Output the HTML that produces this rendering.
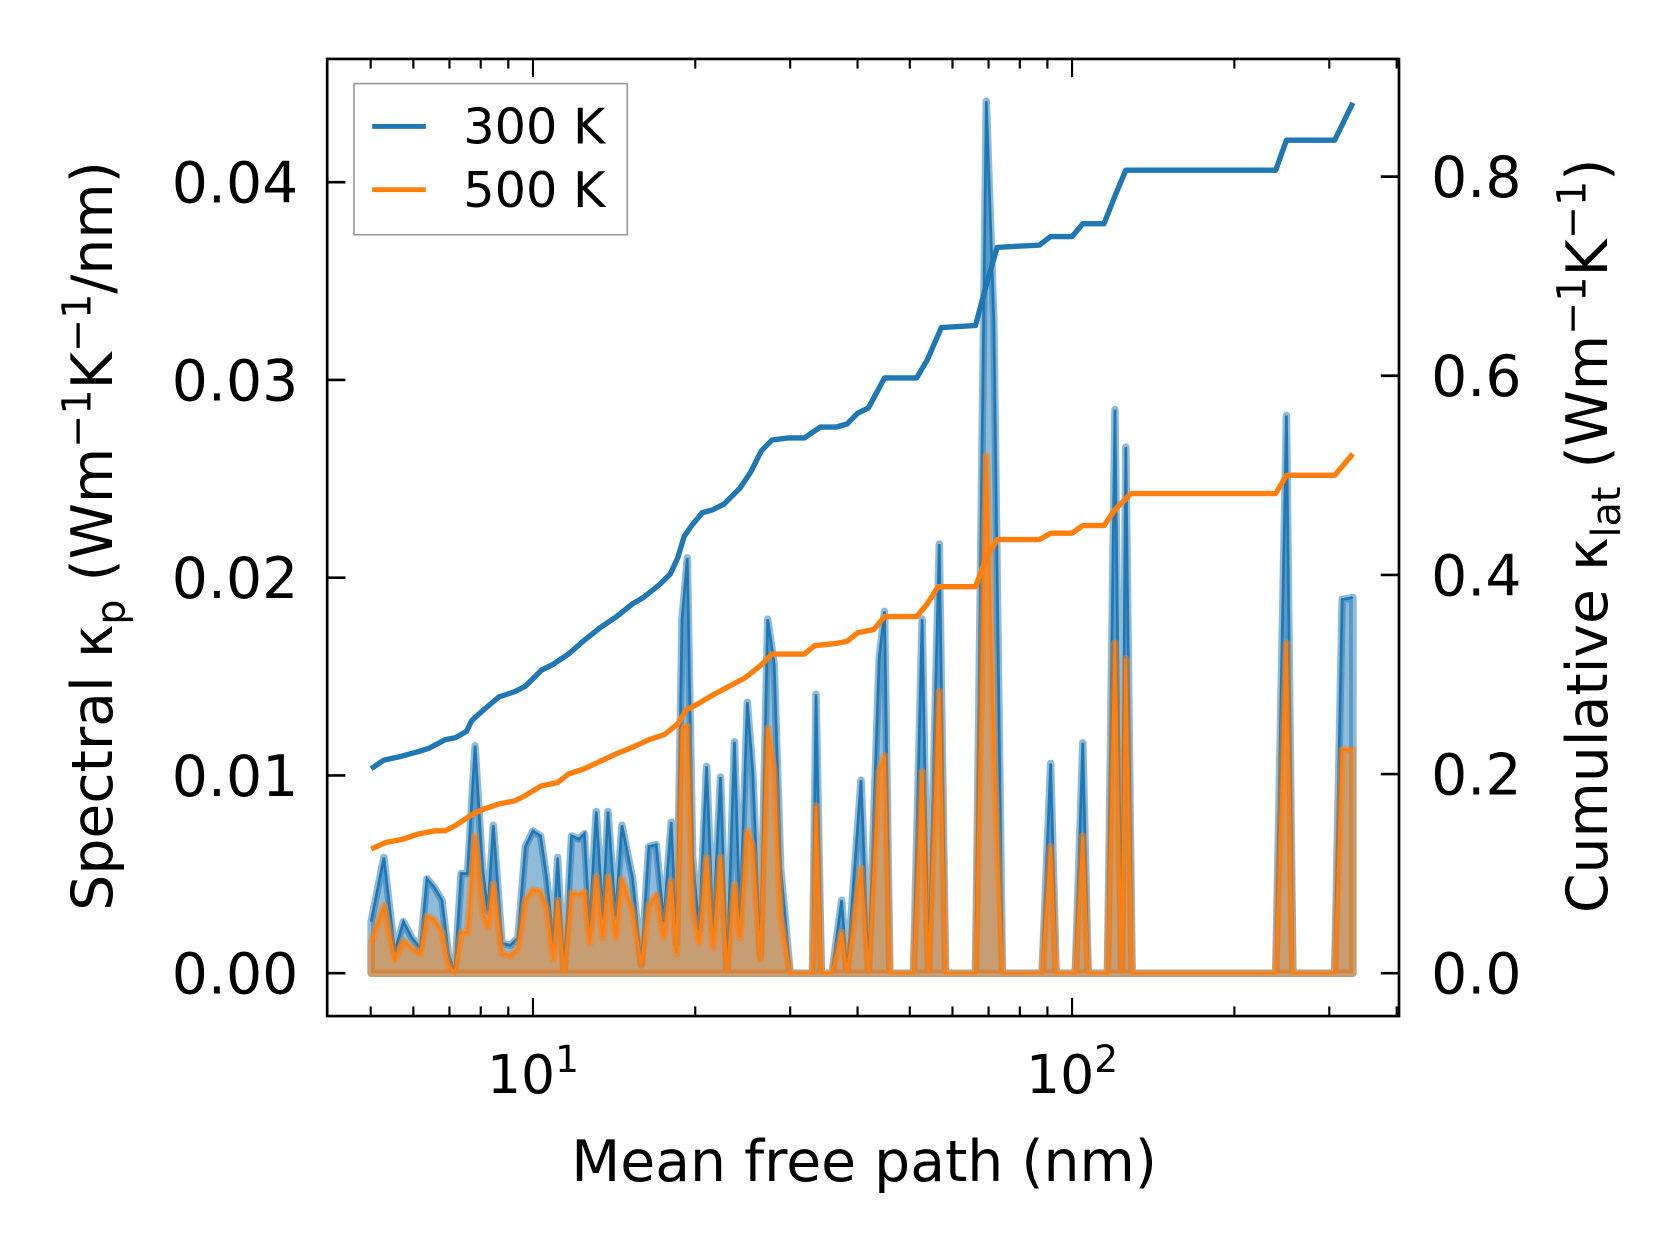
<!DOCTYPE html>
<html><head><meta charset="utf-8"><style>
html,body{margin:0;padding:0;background:#fff}
svg{display:block}
text{font-family:"DejaVu Sans","Liberation Sans",sans-serif;fill:#000}
</style></head><body>
<svg id="chart" width="1679" height="1254" viewBox="0 0 1566 1170" xmlns="http://www.w3.org/2000/svg">
<g id="plot"></g>
<g id="axes"></g>
</svg>
<script>
// ---- data ----
const specX = [5.01,5.29,5.54,5.75,5.96,6.18,6.36,6.56,6.78,6.97,7.16,7.36,7.56,7.81,8.06,8.25,8.44,8.76,9.08,9.38,9.68,10,10.33,10.61,10.91,11.11,11.42,11.79,12.17,12.46,12.74,13.1,13.47,13.78,14.23,14.62,15.31,15.88,16.4,16.93,17.48,18.05,18.47,18.9,19.33,19.78,20.33,20.99,21.58,22.28,22.9,23.65,24.2,24.98,25.56,26.4,27.25,28.02,28.8,30.0,33.0,33.5,34.27,35.87,37.38,38.24,40.6,41.9,43.87,44.88,45.92,50.8,52.7,54.15,56.7,58.27,66.2,69.35,71.6,74.25,87.96,91.25,93.4,101.4,104.7,107.1,116.3,120.1,123.5,125.8,129.2,238.6,249.8,256.8,306.9,316.9,331.8];
// spectral values in units of 1e-3 W m^-1 K^-1 / nm
const spec300 = [2.6,5.85,1.08,2.6,1.8,1.25,4.77,4.34,3.69,0.98,0,5.04,5.04,11.5,5.31,3.14,7.48,1.52,1.41,1.79,6.4,7.2,6.94,4.77,1.52,5.85,0,6.94,6.78,7.05,2.33,8.18,2.87,8.18,2.87,7.48,4.77,0.43,6.4,6.5,2.6,7.64,1.52,17.9,21.0,5.85,2.17,10.46,2.17,9.92,0,11.7,2.6,13.7,10.2,0.81,17.9,15.6,5.31,0,0,14.1,0,0,3.69,0,9.76,0,15.9,18.3,0,0,17.9,0,21.7,0,0,44.1,33,0,0,10.6,0,0,11.65,0,0,28.5,0,26.6,0,0,28.2,0,0,18.9,19.0];
const spec500 = [1.52,3.41,0.7,1.63,1.25,0.98,2.87,2.71,2.06,0.43,0,2.06,2.06,6.94,3.14,2.33,4.5,0.98,0.87,1.25,3.69,4.23,4.12,3.25,0.7,3.69,0,4.07,3.96,4.12,1.52,4.88,1.79,4.88,1.79,4.77,3.14,0.43,3.41,3.96,1.79,4.66,0.98,12.4,12.5,3.14,1.52,5.85,1.3,5.85,0,4.5,1.79,7.2,6.4,0.7,12.4,10.2,2.87,0,0,8.46,0,0,2.06,0,5.31,0,10.2,11.0,0,0,10.2,0,14.25,0,0,26.2,11.3,0,0,6.4,0,0,6.94,0,0,16.7,0,15.9,0,0,16.7,0,0,11.3,11.3];
const cum300X = [5.01,5.29,5.64,6.13,6.41,6.87,7.19,7.53,7.70,8.06,8.64,9.25,9.68,10.37,10.86,11.63,12.46,13.34,14.29,15.31,16.03,17.17,17.98,18.56,19.08,19.7,20.6,21.58,22.6,24.2,25.34,26.52,27.77,29.75,31.87,34.1,36.5,38.24,40.03,41.9,44.88,51.5,53.9,57.2,66.2,69.35,72.6,87.0,91.25,100,104.7,114.6,120.1,125.8,238.6,249.8,306.9,331.8];
const cum300 = [.2054,.2140,.2172,.2226,.2258,.2344,.2366,.2430,.2538,.2634,.2774,.2828,.2882,.3043,.3097,.3204,.3344,.3473,.3581,.3710,.3774,.3903,.4011,.4172,.4387,.4495,.4624,.4656,.4710,.4871,.5032,.5247,.5355,.5376,.5376,.5484,.5484,.5516,.5624,.5677,.5978,.5978,.6161,.6484,.6505,.6914,.7290,.7312,.7398,.7398,.7527,.7527,.7806,.8065,.8065,.8366,.8366,.8742];
const cum500X = [5.01,5.33,5.72,6.13,6.56,6.87,7.19,7.70,8.06,8.64,9.25,9.68,10.37,11.11,11.63,12.46,13.34,14.29,15.31,16.4,17.56,18.56,19.25,20.14,21.58,23.12,24.76,26.52,27.77,31.87,33.3,36.5,38.24,40.03,42.9,44.88,51.5,53.9,56.4,66.2,69.35,72.6,87,91.25,100,104.7,114.6,120.1,128.6,238.6,249.8,306.9,331.8];
const cum500 = [.1247,.1312,.1344,.1398,.1430,.1430,.1484,.1591,.1645,.1699,.1731,.1785,.1882,.1914,.2,.2054,.2129,.2204,.2269,.2344,.2398,.2505,.2645,.2699,.2796,.2882,.2968,.3097,.3204,.3204,.3290,.3312,.3333,.3419,.3452,.3581,.3581,.3710,.3882,.3882,.4172,.4355,.4355,.4419,.4419,.4495,.4495,.4656,.4817,.4817,.5,.5,.5215];
const leftTicks = [0,0.01,0.02,0.03,0.04];
const leftTickLabels = ["0.00","0.01","0.02","0.03","0.04"];
const rightTicks = [0,0.2,0.4,0.6,0.8];
const rightTickLabels = ["0.0","0.2","0.4","0.6","0.8"];
const xMajor = [10,100];
const xMajorExp = ["1","2"];

// ---- axes geometry ----
const L=305,R=1305,T=55,B=948;
const xs = v => 497 + 503*(Math.log10(v)-1);
const yl = v => 908 - 18450*v;      // left axis (W/m/K/nm)
const yr = v => 908 - 929*v;        // right axis (W/m/K)
const NS="http://www.w3.org/2000/svg";
const plot=document.getElementById('plot'), axes=document.getElementById('axes');
function mk(tag,attrs,parent){const e=document.createElementNS(NS,tag);for(const k in attrs)e.setAttribute(k,attrs[k]);parent.appendChild(e);return e;}

function spectral(vals,color,name){
  const pts=specX.map((x,i)=>[xs(x),yl(vals[i]/1000)]);
  const line=pts.map(p=>p[0].toFixed(1)+','+p[1].toFixed(1)).join(' ');
  const area='M'+xs(specX[0]).toFixed(1)+','+yl(0)+' L'+line.split(' ').join(' L')+' L'+xs(specX[specX.length-1]).toFixed(1)+','+yl(0)+' Z';
  const f=mk('path',{d:area,fill:color,'fill-opacity':0.5,stroke:color,'stroke-opacity':0.5,'stroke-width':7,'stroke-linejoin':'round'},plot);
  
  
  const l=mk('polyline',{points:line,fill:'none',stroke:color,'stroke-width':2.5},plot);
  
  
}
spectral(spec300,'#1f77b4','spectral-300k');
spectral(spec500,'#ff7f0e','spectral-500k');

function cum(xa,va,color,name){
  const pts=xa.map((x,i)=>xs(x).toFixed(1)+','+yr(va[i]).toFixed(1)).join(' ');
  const l=mk('polyline',{points:pts,fill:'none',stroke:color,'stroke-width':5,'stroke-linejoin':'round'},plot);
  
  
}
cum(cum300X,cum300,'#1f77b4','cumulative-300k');
cum(cum500X,cum500,'#ff7f0e','cumulative-500k');

// frame
const fr=mk('rect',{x:L,y:T,width:R-L,height:B-T,fill:'none',stroke:'#000','stroke-width':2.5},axes);



// left ticks
leftTicks.forEach((v,i)=>{
  const y=yl(v);
  const t=mk('line',{x1:L,x2:L+17,y1:y,y2:y,stroke:'#000','stroke-width':2.5},axes);
  
  
  const tx=mk('text',{x:L-27,y:y+19,'font-size':53,'text-anchor':'end'},axes);
  tx.textContent=leftTickLabels[i];
  
  
});
// right ticks
rightTicks.forEach((v,i)=>{
  const y=yr(v);
  const t=mk('line',{x1:R-17,x2:R,y1:y,y2:y,stroke:'#000','stroke-width':2.5},axes);
  
  
  const tx=mk('text',{x:R+30,y:y+19,'font-size':53,'text-anchor':'start'},axes);
  tx.textContent=rightTickLabels[i];
  
  
});
// x ticks (log)
for(let d=1;d<=100;d*=10){for(let m=1;m<10;m++){const v=m*d; if(v<4.5||v>400)continue;
  const x=xs(v); const major=(m===1); const len=major?17:9;
  const t1=mk('line',{x1:x,x2:x,y1:B,y2:B-len,stroke:'#000','stroke-width':2},axes);
  
  
  const t2=mk('line',{x1:x,x2:x,y1:T,y2:T+len,stroke:'#000','stroke-width':2},axes);
  
  
}}
xMajor.forEach((v,i)=>{
  const tx=mk('text',{x:xs(v),y:1020,'font-size':50,'text-anchor':'middle'},axes);
  tx.textContent='10';
  const sp=mk('tspan',{dy:-20,'font-size':35},tx);
  sp.textContent=xMajorExp[i];
  
  
});
</script>
<svg style="position:absolute;left:0;top:0" width="1679" height="1254" viewBox="0 0 1566 1170" xmlns="http://www.w3.org/2000/svg">
<text x="806" y="1102" font-size="53" text-anchor="middle">Mean free path (nm)</text>
<text transform="translate(104,500) rotate(-90)" font-size="53" text-anchor="middle">Spectral κ<tspan font-size="37" dy="12">p</tspan><tspan dy="-12"> (Wm</tspan><tspan font-size="37" dy="-20">−1</tspan><tspan dy="20">K</tspan><tspan font-size="37" dy="-20">−1</tspan><tspan dy="20">/nm)</tspan></text>
<text transform="translate(1499,500) rotate(-90)" font-size="53" text-anchor="middle">Cumulative κ<tspan font-size="37" dy="12">lat</tspan><tspan dy="-12"> (Wm</tspan><tspan font-size="37" dy="-20">−1</tspan><tspan dy="20">K</tspan><tspan font-size="37" dy="-20">−1</tspan><tspan dy="20">)</tspan></text>
<g>
<rect x="330" y="78" width="255" height="141" fill="#fff" fill-opacity="0.8" stroke="#999" stroke-width="1.5"/>
<line x1="347" x2="397" y1="118" y2="118" stroke="#1f77b4" stroke-width="4.5"/>
<text x="432" y="134" font-size="46">300 K</text>
<line x1="347" x2="397" y1="177" y2="177" stroke="#ff7f0e" stroke-width="4.5"/>
<text x="432" y="193" font-size="46">500 K</text>
</g>
</svg>
</body></html>
